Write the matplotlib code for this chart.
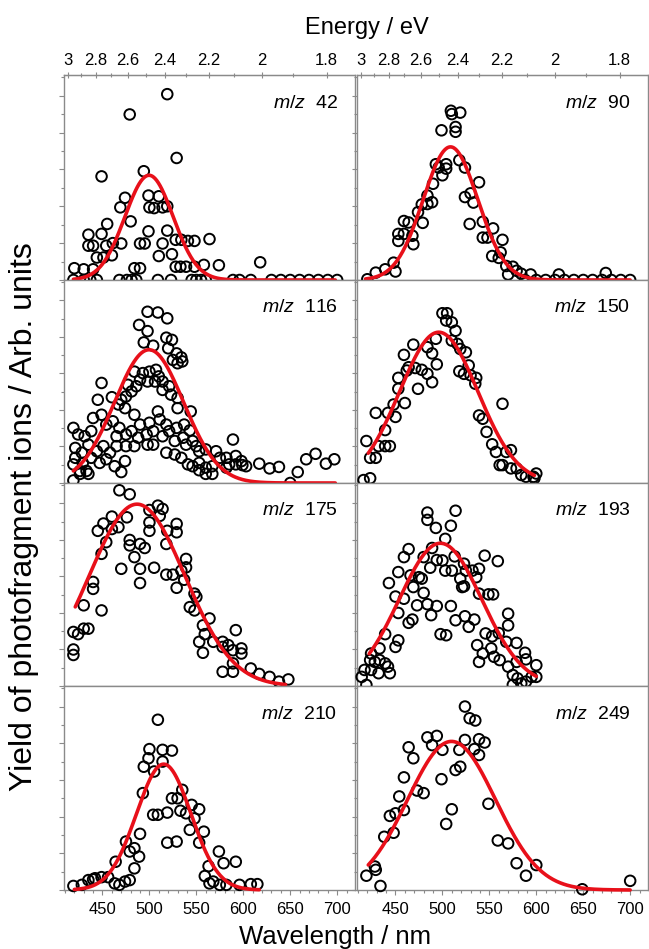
import matplotlib.pyplot as plt
import numpy as np
from matplotlib.ticker import MultipleLocator, NullFormatter

plt.rcParams['font.family'] = ['Liberation Sans', 'DejaVu Sans']
plt.rcParams['mathtext.fontset'] = 'custom'
plt.rcParams['mathtext.it'] = 'Liberation Sans:italic'
plt.rcParams['mathtext.rm'] = 'Liberation Sans'

# ---- data (wavelength in nm, yield in arb. units) ----
wl_42 = [519, 479, 529, 449, 494, 474, 480, 469, 455, 435, 449, 435, 440, 454, 461, 470, 490, 495, 499, 500,
         505, 499, 510, 514, 519, 519, 514, 510, 524, 528, 534, 541, 548, 564, 444, 460, 451, 484, 490, 528,
         533, 539, 548, 558, 574, 618, 420, 430, 440,
         419, 430, 437, 444, 468, 476, 481, 486, 509, 523, 545, 550, 555, 560, 589, 596, 608, 630, 640, 650,
         660, 670, 680, 690, 700]
y_42 = [5.04, 4.49, 3.31, 2.81, 2.95, 2.23, 1.59, 1.97, 1.52, 1.23, 1.25, 0.93, 0.93, 0.93, 1.0, 0.99, 0.99, 0.99, 1.32, 1.97,
        1.95, 2.29, 2.27, 1.97, 2.0, 1.34, 0.99, 0.65, 0.7, 1.09, 1.09, 1.06, 1.06, 1.11, 0.61, 0.67, 0.61, 0.32, 0.32, 0.36,
        0.36, 0.36, 0.36, 0.41, 0.4, 0.48, 0.32, 0.29, 0.29,
        0, 0, 0, 0, 0, 0, 0, 0, 0, 0, 0, 0, 0, 0, 0, 0, 0, 0, 0, 0,
        0, 0, 0, 0, 0]

wl_90 = [509, 510, 519, 499, 514, 514, 493, 504, 496, 504, 500, 518, 524, 539, 490, 484, 478, 489, 484, 524,
         530, 533, 474, 459, 464, 459, 453, 453, 468, 469, 479, 529, 543, 554, 543, 548, 564, 553, 560, 562,
         448, 450, 439, 429, 420, 568, 575, 570, 579, 584, 594, 624, 674,
         588, 600, 610, 620, 630, 640, 650, 660, 670, 680, 690, 700]
y_90 = [4.59, 4.5, 4.54, 4.06, 4.15, 4.02, 3.14, 3.14, 3.05, 3.02, 2.84, 3.25, 3.05, 2.65, 2.61, 2.29, 2.05, 2.11, 2.06, 2.25,
        2.35, 2.1, 1.84, 1.6, 1.56, 1.25, 1.25, 1.06, 1.2, 0.97, 1.55, 1.52, 1.58, 1.4, 1.15, 1.15, 1.09, 0.65, 0.6, 0.75,
        0.47, 0.23, 0.29, 0.2, 0.02, 0.38, 0.36, 0.15, 0.25, 0.17, 0.15, 0.15, 0.19,
        0, 0, 0, 0, 0, 0, 0, 0, 0, 0, 0, 0]

wl_116 = [498, 509, 519, 489, 498, 494, 504, 518, 524, 520, 529, 534, 535, 525, 530, 484, 493, 500, 507, 510,
          490, 498, 506, 514, 521, 486, 477, 481, 475, 470, 514, 523, 530, 449, 445, 460, 467, 474, 484, 490,
          500, 509, 511, 518, 530, 544, 521, 529, 537, 543, 440, 449, 454, 461, 468, 465, 475, 481, 488, 497,
          504, 514, 527, 536, 539, 546, 550, 553, 560, 571, 575, 582, 589, 592, 598, 603, 419, 424, 431, 438,
          421, 428, 435, 444, 451, 458, 465, 475, 484, 498, 504, 518, 527, 534, 541, 546, 553, 560, 567, 582,
          585, 421, 429, 438, 447, 454, 463, 474, 592, 599, 617, 628, 638, 658, 667, 677, 688, 697, 419, 426,
          433, 426, 435, 470, 553, 560, 567, 650, 419]
y_116 = [4.69, 4.67, 4.51, 4.33, 4.16, 3.85, 3.76, 3.98, 3.92, 3.69, 3.55, 3.44, 3.33, 3.37, 3.28, 3.05, 3.01, 3.05, 3.1, 2.92,
         2.83, 2.78, 2.78, 2.78, 2.65, 2.65, 2.69, 2.51, 2.37, 2.28, 2.55, 2.42, 2.33, 2.74, 2.28, 2.35, 2.15, 2.05, 1.87, 1.6,
         1.65, 1.96, 1.74, 1.6, 2.05, 1.96, 1.42, 1.51, 1.6, 1.44, 1.78, 1.87, 1.6, 1.69, 1.51, 1.28, 1.33, 1.42, 1.24, 1.33,
         1.42, 1.28, 1.15, 1.24, 1.05, 1.15, 1.01, 0.87, 0.92, 0.87, 0.69, 0.69, 1.19, 0.74, 0.6, 0.46, 1.51, 1.33, 1.28, 1.42,
         0.96, 0.83, 1.05, 0.87, 1.01, 0.83, 1.01, 1.01, 1.01, 1.05, 1.05, 0.83, 0.78, 0.69, 0.51, 0.46, 0.55, 0.42, 0.46, 0.42,
         0.51, 0.69, 0.55, 0.69, 0.55, 0.65, 0.46, 0.6, 0.51, 0.49, 0.53, 0.4, 0.44, 0.3, 0.65, 0.8, 0.53, 0.65, 0.51, 0.33,
         0.33, 0.25, 0.25, 0.3, 0.35, 0.25, 0.25, 0.0, 0.07]

wl_150 = [500, 505, 504, 510, 514, 493, 510, 516, 519, 525, 469, 459, 484, 489, 464, 471, 478, 462, 484, 494,
          489, 474, 453, 453, 518, 528, 523, 530, 536, 535, 448, 460, 429, 442, 450, 564, 539, 543, 547, 553,
          557, 568, 573, 439, 432, 439, 444, 419, 423, 429, 561, 564, 579, 423, 573, 584, 589, 597, 600, 598,
          416]
y_150 = [4.65, 4.65, 4.45, 4.4, 4.17, 3.95, 3.9, 3.81, 3.67, 3.58, 3.79, 3.51, 3.72, 3.55, 3.17, 3.15, 3.1, 3.08, 2.99, 3.25,
         2.76, 2.58, 2.88, 2.58, 3.06, 3.22, 2.99, 2.95, 2.88, 2.72, 2.15, 2.19, 1.92, 1.92, 1.81, 2.17, 1.85, 1.76, 1.4, 1.06,
         0.85, 0.85, 0.9, 1.45, 1.01, 1.01, 1.01, 1.15, 0.69, 0.69, 0.49, 0.49, 0.4, 0.13, 0.4, 0.22, 0.17, 0.17, 0.26, 0.13,
         0.08]

wl_175 = [468, 479, 500, 509, 514, 511, 460, 451, 445, 460, 467, 476, 500, 500, 519, 529, 529, 454, 449, 479,
          479, 490, 495, 518, 484, 539, 539, 470, 490, 505, 518, 525, 534, 490, 529, 537, 440, 440, 548, 550,
          430, 449, 543, 548, 564, 419, 424, 430, 435, 557, 559, 553, 568, 578, 584, 578, 592, 557, 589, 598,
          598, 419, 419, 578, 589, 589, 608, 617, 628, 638, 648]
y_175 = [5.36, 5.25, 4.82, 4.94, 4.85, 4.66, 4.64, 4.45, 4.25, 4.3, 4.35, 4.62, 4.48, 4.25, 4.25, 4.44, 4.21, 3.94, 3.62, 4.0,
         3.85, 3.89, 3.78, 3.89, 3.53, 3.48, 3.25, 3.21, 3.21, 3.24, 3.05, 3.05, 3.16, 2.82, 2.69, 2.91, 2.85, 2.66, 2.53, 2.44,
         2.21, 2.07, 2.16, 2.07, 1.85, 1.48, 1.42, 1.57, 1.57, 1.66, 1.42, 1.21, 1.21, 1.21, 1.12, 1.07, 1.53, 0.91, 0.98, 1.03,
         0.89, 1.0, 0.85, 0.39, 0.39, 0.62, 0.48, 0.33, 0.25, 0.12, 0.18]

wl_193 = [484, 484, 514, 493, 509, 503, 464, 459, 489, 480, 494, 500, 513, 523, 525, 532, 539, 545, 559, 453,
          466, 475, 478, 487, 503, 510, 519, 521, 536, 443, 469, 480, 450, 459, 523, 539, 549, 554, 473, 484,
          494, 509, 453, 464, 468, 488, 514, 524, 534, 528, 570, 570, 546, 553, 560, 498, 504, 439, 453, 450,
          433, 537, 543, 552, 568, 579, 555, 561, 588, 424, 423, 433, 439, 428, 539, 589, 600, 570, 579, 417,
          414, 424, 432, 442, 444, 419, 575, 580, 595, 600, 575, 584, 589]
y_193 = [4.75, 4.55, 4.8, 4.33, 4.39, 4.03, 3.75, 3.53, 3.78, 3.53, 3.45, 3.44, 3.55, 3.35, 3.16, 3.16, 3.21, 3.57, 3.42, 3.12,
         3.03, 2.98, 2.94, 3.24, 3.16, 3.16, 2.94, 2.71, 2.98, 2.82, 2.71, 2.55, 2.45, 2.39, 2.73, 2.53, 2.51, 2.51, 2.21, 2.24,
         2.19, 2.19, 2.0, 1.73, 1.82, 1.94, 1.8, 1.91, 1.82, 1.62, 1.98, 1.66, 1.44, 1.36, 1.45, 1.42, 1.39, 1.42, 1.25, 1.07,
         1.03, 1.12, 0.89, 1.03, 1.21, 1.18, 0.8, 0.71, 0.91, 0.89, 0.71, 0.71, 0.62, 0.66, 0.66, 0.73, 0.57, 0.53, 0.66, 0.44,
         0.25, 0.44, 0.35, 0.53, 0.35, 0.03, 0.3, 0.21, 0.25, 0.25, 0.03, 0.07, 0.12]

wl_210 = [509, 500, 514, 524, 499, 494, 514, 505, 493, 524, 530, 535, 545, 533, 539, 553, 548, 504, 509, 519,
          543, 558, 490, 475, 553, 519, 529, 484, 479, 489, 464, 484, 574, 579, 592, 563, 440, 419, 428, 435,
          442, 449, 456, 463, 468, 474, 479, 559, 564, 568, 575, 582, 596, 608, 615]
y_210 = [4.64, 3.84, 3.82, 3.8, 3.59, 3.36, 3.5, 3.23, 2.64, 2.5, 2.5, 2.73, 2.32, 2.16, 2.09, 2.2, 1.95, 2.05, 2.05, 2.11,
         1.64, 1.59, 1.53, 1.32, 1.29, 1.29, 1.32, 1.14, 1.05, 0.91, 0.77, 0.59, 1.05, 0.73, 0.77, 0.65, 0.29, 0.11, 0.14, 0.27,
         0.32, 0.35, 0.35, 0.18, 0.14, 0.23, 0.27, 0.38, 0.18, 0.23, 0.14, 0.14, 0.14, 0.16, 0.16]

wl_249 = [524, 529, 535, 484, 494, 489, 524, 539, 545, 464, 500, 518, 534, 539, 469, 459, 499, 514, 519, 473,
          480, 454, 444, 450, 459, 510, 504, 448, 438, 549, 559, 570, 579, 600, 589, 428, 429, 419, 434, 649,
          700]
y_249 = [5.0, 4.68, 4.62, 4.16, 4.2, 3.95, 4.09, 4.11, 4.02, 3.89, 3.82, 3.82, 3.84, 3.68, 3.59, 3.07, 3.02, 3.27, 3.36, 2.71,
         2.64, 2.55, 2.02, 2.09, 2.18, 2.2, 1.8, 1.56, 1.45, 2.35, 1.35, 1.27, 0.73, 0.68, 0.39, 0.64, 0.55, 0.39, 0.11, 0.02,
         0.25]

# gaussian fits: amplitude, centre (nm), sigma (nm), start, end of drawn curve
fit_42 = [2.84, 499.6, 25.6, 419, 698]
fit_90 = [3.61, 508.6, 29.0, 418, 700]
fit_116 = [3.65, 499.6, 36.8, 419, 698]
fit_150 = [4.13, 496.1, 41.7, 421, 598]
fit_175 = [4.98, 486.8, 51.0, 421, 645]
fit_193 = [3.91, 497.9, 44.0, 422, 600]
fit_210 = [3.43, 515.2, 29.0, 420, 617]
fit_249 = [4.05, 509.7, 47.0, 421, 700]

labels = ['42', '90', '116', '150', '175', '193', '210', '249']
wls = [wl_42, wl_90, wl_116, wl_150, wl_175, wl_193, wl_210, wl_249]
ys = [y_42, y_90, y_116, y_150, y_175, y_193, y_210, y_249]
fits = [fit_42, fit_90, fit_116, fit_150, fit_175, fit_193, fit_210, fit_249]

energy_ticks = [3, 2.8, 2.6, 2.4, 2.2, 2, 1.8]
energy_labels = ['3', '2.8', '2.6', '2.4', '2.2', '2', '1.8']
energy_minor = [2.9, 2.7, 2.5, 2.3, 2.1, 1.9]

HC = 1239.84
frame = '#8a8a8a'
W, H = 649, 949
col_x = [64, 357]
col_w = 291
row_top = [75, 280, 483, 686]
row_bot = [280, 483, 686, 890]


def nm2ev(x):
    x = np.asarray(x, dtype=float)
    return HC / np.where(x == 0, 1e-9, x)


fig = plt.figure(figsize=(W / 100, H / 100), dpi=100)

for i in range(8):
    r, c = divmod(i, 2)
    ax = fig.add_axes((col_x[c] / W, 1 - row_bot[r] / H, col_w / W, (row_bot[r] - row_top[r]) / H))
    ax.set_xlim(409, 719)
    ax.set_ylim(0, 5.56)

    ax.scatter(wls[i], ys[i], s=58, facecolors='none', edgecolors='black', linewidths=1.4,
               zorder=3, clip_on=False)
    amp, cen, sig, x0, x1 = fits[i]
    xx = np.linspace(x0, x1, 300)
    ax.plot(xx, amp * np.exp(-(xx - cen) ** 2 / (2 * sig ** 2)), color='#e8101a', lw=2.6,
            zorder=4, solid_capstyle='round', clip_on=False)

    ax.text(0.94, 0.84, r'$m/z$  ' + labels[i], transform=ax.transAxes, ha='right', va='baseline',
            fontsize=14)

    for sp in ax.spines.values():
        sp.set_color(frame)
        sp.set_linewidth(1.0)

    ax.xaxis.set_major_locator(MultipleLocator(50))
    ax.xaxis.set_minor_locator(MultipleLocator(10))
    ax.yaxis.set_major_locator(MultipleLocator(1))
    ax.yaxis.set_minor_locator(MultipleLocator(0.5))
    ax.tick_params(which='both', direction='out', color=frame, width=0.8)
    ax.tick_params(which='major', length=3.5)
    ax.tick_params(which='minor', length=2)
    ax.tick_params(axis='y', labelleft=False)
    if r == 3:
        ax.set_xticks([450, 500, 550, 600, 650, 700])
        ax.tick_params(axis='x', labelsize=12, pad=5)
    else:
        ax.tick_params(axis='x', labelbottom=False)

    if r == 0:
        sec = ax.secondary_xaxis('top', functions=(nm2ev, nm2ev))
        sec.set_xticks(energy_ticks, energy_labels)
        sec.set_xticks(energy_minor, minor=True)
        sec.xaxis.set_minor_formatter(NullFormatter())
        sec.tick_params(which='both', direction='inout', color=frame, width=0.8, labelsize=12, pad=3)
        sec.tick_params(which='major', length=4)
        sec.tick_params(which='minor', length=2.5)
        sec.spines['top'].set_color(frame)

fig.text(367 / W, 1 - 28 / H, 'Energy / eV', ha='center', va='center', fontsize=17)
fig.text(335 / W, 1 - 937 / H, 'Wavelength / nm', ha='center', va='center', fontsize=18.5)
fig.text(24 / W, 1 - 517 / H, 'Yield of photofragment ions / Arb. units', ha='center', va='center',
         rotation=90, fontsize=23)

fig.savefig('out.png', dpi=100)
